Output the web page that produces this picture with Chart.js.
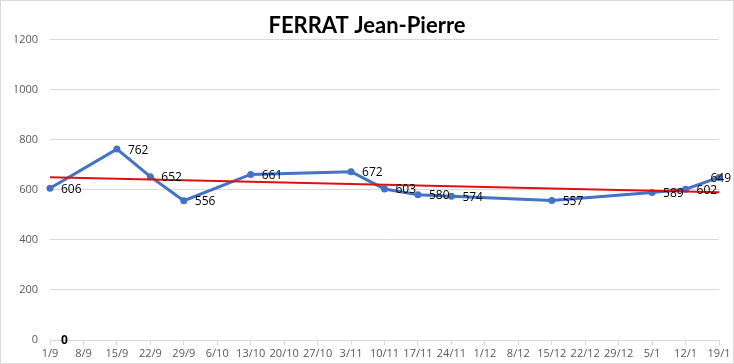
<!DOCTYPE html>
<html>
<head>
	<title>FERRAT Jean-Pierre</title>
	<meta charset="UTF-8">
	<script src="https://cdn.jsdelivr.net/npm/chart.js"></script>
	<style type="text/css">
		body { margin: 0; background: #fff; }
		.chart-container {
			width: 734px;
			height: 364px;
			box-sizing: border-box;
			border: 1px solid #d9d9d9;
			position: relative;
		}
	</style>
</head>
<body>
	<div class="chart-container">
		<canvas id="chart"></canvas>
	</div>
	<script type="text/javascript">
// weekly dates on the x axis
var weeks = ['1/9', '8/9', '15/9', '22/9', '29/9', '6/10', '13/10', '20/10', '27/10', '3/11',
  '10/11', '17/11', '24/11', '1/12', '8/12', '15/12', '22/12', '29/12', '5/1', '12/1', '19/1'];

// measured values (null = no measure that week)
var scores = [606, null, 762, 652, 556, null, 661, null, null, 672,
  603, 580, 574, null, null, 557, null, null, 589, 602, 649];

// second series: a single 0 on the first week
var zeroSeries = [0, null, null, null, null, null, null, null, null, null,
  null, null, null, null, null, null, null, null, null, null, null];

// linear trend line, read at both ends
var trend = [650, null, null, null, null, null, null, null, null, null,
  null, null, null, null, null, null, null, null, null, null, 590];

var yTicks = [0, 200, 400, 600, 800, 1000, 1200];

var gridColor = '#d9d9d9';
var tickColor = '#595959';
var font = '"Open Sans", "Liberation Sans", sans-serif';

// draws the value next to each point, like excel "right" labels
var valueLabels = {
  id: 'valueLabels',
  afterDatasetsDraw: function(chart) {
    var ctx = chart.ctx;
    ctx.save();
    chart.data.datasets.forEach(function(ds, i) {
      if (!ds.showValues) return;
      var meta = chart.getDatasetMeta(i);
      ctx.font = (ds.valueBold ? 'bold ' : '') + '12px ' + font;
      ctx.fillStyle = '#000';
      ctx.textBaseline = 'middle';
      meta.data.forEach(function(pt, j) {
        var v = ds.data[j];
        if (v === null || v === undefined) return;
        var txt = String(v);
        var w = ctx.measureText(txt).width;
        var x = pt.x + 11;
        if (x + w > chart.width - 2) x = chart.width - 2 - w;
        ctx.fillText(txt, x, pt.y + 1);
      });
    });
    ctx.restore();
  }
};

var ctx = document.getElementById('chart').getContext('2d');
var chart = new Chart(ctx, {
  type: 'line',
  data: {
    labels: weeks,
    datasets: [{
      label: 'FERRAT Jean-Pierre',
      data: scores,
      borderColor: '#4472c4',
      backgroundColor: '#4472c4',
      borderWidth: 3,
      pointRadius: 3.5,
      pointBorderWidth: 0,
      tension: 0,
      spanGaps: true,
      showValues: true,
      order: 2
    }, {
      label: 'zero',
      data: zeroSeries,
      showLine: false,
      pointRadius: 0,
      showValues: true,
      valueBold: true,
      order: 3
    }, {
      label: 'Tendance',
      data: trend,
      borderColor: '#e01010',
      borderWidth: 2,
      pointRadius: 0,
      tension: 0,
      spanGaps: true,
      order: 1
    }]
  },
  options: {
    responsive: true,
    maintainAspectRatio: false,
    animation: false,
    layout: { padding: { left: 14, right: 14, top: 0, bottom: 0 } },
    plugins: {
      legend: { display: false },
      tooltip: { enabled: false },
      title: {
        display: true,
        text: 'FERRAT Jean-Pierre',
        color: '#000',
        font: { family: 'Lato, "Open Sans", sans-serif', size: 22, weight: 'bold' },
        padding: { top: 12, bottom: 0 }
      }
    },
    scales: {
      x: {
        offset: false,
        grid: { drawOnChartArea: false, drawTicks: true, tickLength: 5, color: gridColor },
        border: { color: gridColor },
        ticks: { color: tickColor, font: { family: font, size: 11 }, padding: 2, maxRotation: 0, autoSkip: false },
        afterFit: function(scale) { scale.height = 23; }
      },
      y: {
        min: 0,
        max: 1200,
        afterBuildTicks: function(scale) {
          scale.ticks = yTicks.map(function(v) { return { value: v }; });
        },
        grid: { color: gridColor, drawTicks: false },
        border: { display: false },
        ticks: {
          color: tickColor,
          font: { family: font, size: 11 },
          padding: 12,
          callback: function(v) { return String(v); }
        },
        afterFit: function(scale) { scale.width = 35; }
      }
    }
  },
  plugins: [valueLabels]
});
</script>
</body>
</html>
